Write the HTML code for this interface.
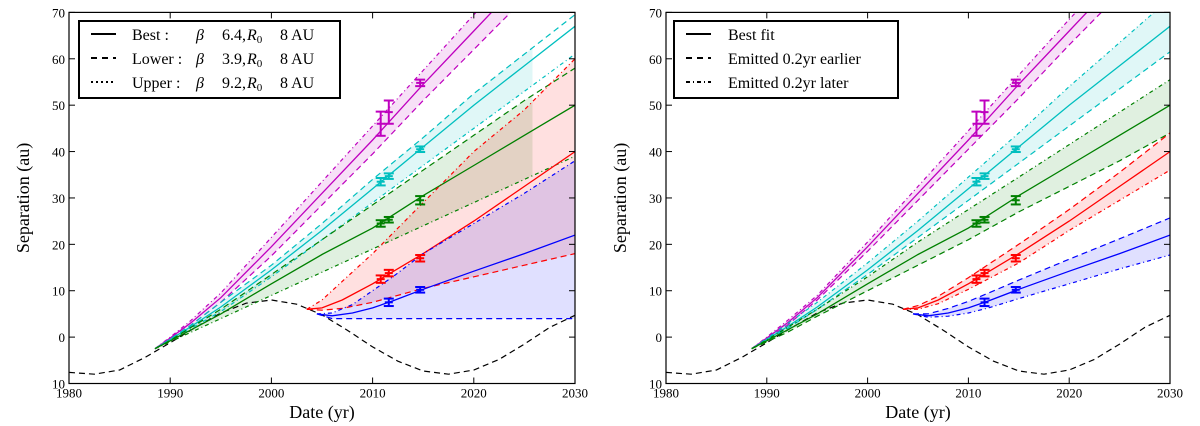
<!DOCTYPE html>
<html><head><meta charset="utf-8"><style>
html,body{margin:0;padding:0;background:#fff;}
svg{display:block;font-family:"Liberation Serif",serif;}
</style></head><body>
<svg id="chart" width="1200" height="426" viewBox="0 0 1200 426" xmlns="http://www.w3.org/2000/svg"></svg>
<script>
// ---------- data ----------
const tLate = [1988.5,1990,1992,1995,2000,2005,2010,2015,2020,2025,2030];
const tRed = [2003.5,2005,2007,2010,2015,2020,2025,2030];
const tBlue = [2004.5,2006,2008,2010,2012,2015,2020,2025,2030];
const sinYears = [1980,1982.5,1985,1987.5,1990,1992.5,1995,1997.5,2000,2002.5,2005,2007.5,2010,2012.5,2015,2017.5,2020,2022.5,2025,2027.5,2030];
const sinVals = [-7.6,-8.0,-7.1,-4.4,-1.2,2.1,5.2,7.3,8.0,7.1,4.8,1.5,-2.1,-5.2,-7.3,-8.0,-7.1,-4.8,-1.5,2.1,4.7];

const magBest = [-2.5,-0.2,3,8.5,19.5,31,42.5,54.5,66,77.5,89];
const cyaBest = [-2.5,-0.5,2.2,6.5,14.5,23,32,41,50,58.5,67];
const grnBest = [-2.5,-0.8,1.5,5,11.5,17.8,23.5,30.5,37,43.5,50];
const redBest = [6,6.3,8,11.5,18,25,32.5,40];
const bluBest = [5,4.6,5.2,6.3,7.8,10.3,14.2,18,22];

// left panel: lower (dashed) / upper (dash-dot)
const L_magLow = [-2.5,-0.4,2.5,7.5,17.5,28.5,39.5,51,62,73,84];
const L_magUp  = [-2.5,0,3.5,9.5,21.5,33.5,45.5,57.5,69.5,81,93];
const L_cyaLow = [-2.5,-0.4,2.5,7.5,15.5,24.5,34,43,52.5,61,69.5];
const L_cyaUp  = [-2.5,-0.6,1.8,5.5,13,21,29,37,45,53,61];
const L_grnLow = [-2.5,-0.7,2,6,13.5,21,28.5,36,43.5,51,58];
const L_grnUp  = [-2.5,-1,1,4,9,14,19,24,29,34,39];
const L_redLow = [6,5.8,6.2,7.5,10.5,13,15.5,18];
const L_redUp  = [6,8,12,18,29,40,49,60];
const L_bluLow = [5,4,4,4,4,4,4,4,4];
const L_bluUp  = [5,5.2,7,10,13,18,24.5,31,38];

// right panel: earlier (dashed) / later (dash-dot)
const R_magLow = [-2.5,-0.4,2.5,8,18.5,29.5,40.5,51.5,63,74,85];
const R_magUp  = [-2.5,0,3.5,9,20.5,32.5,44.5,56.5,68.5,80,92];
const R_cyaLow = [-2.5,-0.7,1.8,6,13.5,21.5,29.5,37.5,45.5,53.5,61.5];
const R_cyaUp  = [-2.5,-0.3,2.8,7.5,16,25,34.5,44,54,63.5,73];
const R_grnLow = [-2.5,-1,1,4.5,10,15.5,21,27,32.5,38,44];
const R_grnUp  = [-2.5,-0.6,2,6,13,20.5,27.5,34.5,41.5,48.5,55.5];
const R_redLow = [6,6.8,8.8,12.8,20,27.5,35.5,44];
const R_redUp  = [6,6,7.2,10.3,16,23,29.5,36];
const R_bluLow = [5,5,6.2,7.7,9.5,12.3,16.8,21.2,25.7];
const R_bluUp  = [5,4.3,4.5,5.2,6.3,8.3,11.5,14.7,17.7];

// error bars: date, value, error
const obsMag = [[2010.8,46,2.6],[2011.6,48.5,2.5],[2014.7,54.8,0.7]];
const obsCya = [[2010.8,33.5,0.8],[2011.6,34.7,0.6],[2014.7,40.5,0.6]];
const obsGrn = [[2010.8,24.5,0.7],[2011.6,25.3,0.6],[2014.7,29.5,0.9]];
const obsRed = [[2010.8,12.5,0.8],[2011.6,13.8,0.7],[2014.7,17,0.7]];
const obsBlu = [[2011.6,7.5,0.8],[2014.7,10.2,0.6]];

const xTicks = [1980,1990,2000,2010,2020,2030];
const yTicks = [70,60,50,40,30,20,10,0,-10];
const yTickLabels = ["70","60","50","40","30","20","10","0","10"];

// ---------- drawing ----------
const NS = "http://www.w3.org/2000/svg";
const svg = document.getElementById('chart');
function el(tag, attrs, parent){const e=document.createElementNS(NS,tag);for(const k in attrs)e.setAttribute(k,attrs[k]);(parent||svg).appendChild(e);return e;}

const COL = {mag:'#bf00bf',cya:'#00bfbf',grn:'#008000',red:'#ff0000',blu:'#0000ff'};
const DASH = '6,4', DOT_L = '4,3,1,3', DOT_R = '4,3,1,3';

function panel(id, x0, x1, lows, ups, fillEnd, legend){
  const y0 = 12.4, y1 = 383.5;
  const sx = t => x0 + (t-1980)/50*(x1-x0);
  const sy = v => y0 + (70-v)/80*(y1-y0);
  const g = el('g',{});
  
  
  const defs = el('defs',{},g);
  const cp = el('clipPath',{id:id+'-clip'},defs);
  el('rect',{x:x0,y:y0,width:x1-x0,height:y1-y0},cp);
  const cpf = el('clipPath',{id:id+'-clipf'},defs);
  el('rect',{x:x0,y:y0,width:sx(fillEnd)-x0,height:y1-y0},cpf);
  const plot = el('g',{'clip-path':'url(#'+id+'-clip)'},g);
  const pts = (ts,vs)=>ts.map((t,i)=>sx(t).toFixed(1)+','+sy(vs[i]).toFixed(1));
  function line(ts,vs,color,dash,w,name){
    const p = el('polyline',{points:pts(ts,vs).join(' '),fill:'none',stroke:color,'stroke-width':w||1.2,'stroke-dasharray':dash||'none'},plot);
    
    
  }
  function band(ts,a,b,color,name,clipEnd){
    const p = pts(ts,a).concat(pts(ts,b).reverse());
    const poly = el('polygon',{points:p.join(' '),fill:color,'fill-opacity':0.12,stroke:'none'},plot);
    if(clipEnd) poly.setAttribute('clip-path','url(#'+id+'-clipf)');
    
    
  }
  const series = [
    ['mag',tLate,magBest,lows.mag,ups.mag,false],
    ['cya',tLate,cyaBest,lows.cya,ups.cya,true],
    ['grn',tLate,grnBest,lows.grn,ups.grn,true],
    ['red',tRed,redBest,lows.red,ups.red,false],
    ['blu',tBlue,bluBest,lows.blu,ups.blu,false]];
  series.forEach(s=>band(s[1],s[3],s[4],COL[s[0]],s[0]+'-band',s[5]));
  line(sinYears,sinVals,'#000',DASH,1.2,'orbit-curve');
  series.forEach(s=>{
    line(s[1],s[3],COL[s[0]],DASH,1.2,s[0]+'-lower-line');
    line(s[1],s[4],COL[s[0]],id==='left'?DOT_L:DOT_R,1.2,s[0]+'-upper-line');
    line(s[1],s[2],COL[s[0]],null,1.3,s[0]+'-best-line');
  });
  const obs = {mag:obsMag,cya:obsCya,grn:obsGrn,red:obsRed,blu:obsBlu};
  for(const k in obs){
    obs[k].forEach(o=>{
      const cx=sx(o[0]), ya=sy(o[1]+o[2]), yb=sy(o[1]-o[2]);
      const eg = el('g',{stroke:COL[k],'stroke-width':2,fill:'none'},plot);
      
      
      el('line',{x1:cx,y1:ya,x2:cx,y2:yb},eg);
      el('line',{x1:cx-5,y1:ya,x2:cx+5,y2:ya},eg);
      el('line',{x1:cx-5,y1:yb,x2:cx+5,y2:yb},eg);
      el('line',{x1:cx-4,y1:sy(o[1]),x2:cx+4,y2:sy(o[1])},eg);
    });
  }
  const fr = el('rect',{x:x0,y:y0,width:x1-x0,height:y1-y0,fill:'none',stroke:'#000','stroke-width':1.2},g);
  
  
  xTicks.forEach(t=>{
    const x=sx(t);
    el('line',{x1:x,y1:y1,x2:x,y2:y1-6,stroke:'#000'},g);
    el('line',{x1:x,y1:y0,x2:x,y2:y0+6,stroke:'#000'},g);
    const tx = el('text',{x:x,y:y1+14,'font-size':13,'text-anchor':'middle'},g);
    tx.textContent = t;
    
    
  });
  yTicks.forEach((v,i)=>{
    const y=sy(v);
    el('line',{x1:x0,y1:y,x2:x0+6,y2:y,stroke:'#000'},g);
    el('line',{x1:x1,y1:y,x2:x1-6,y2:y,stroke:'#000'},g);
    const tx = el('text',{x:x0-4,y:y+5,'font-size':13,'text-anchor':'end'},g);
    tx.textContent = yTickLabels[i];
    
    
  });
  const xl = el('text',{x:(x0+x1)/2,y:418,'font-size':18,'text-anchor':'middle'},g);
  xl.textContent = 'Date (yr)';
  
  
  const yl = el('text',{x:0,y:0,'font-size':18,'text-anchor':'middle',transform:'translate('+(x0-40)+','+((y0+y1)/2)+') rotate(-90)'},g);
  yl.textContent = 'Separation (au)';
  
  
  const lg = el('g',{},g);
  
  
  el('rect',{x:legend.x,y:21,width:legend.w,height:77,fill:'#fff',stroke:'#000','stroke-width':2},lg);
  legend.rows.forEach((r,i)=>{
    const y = 34+i*24;
    el('line',{x1:legend.x+12,y1:y,x2:legend.x+37,y2:y,stroke:'#000','stroke-width':2,'stroke-dasharray':r[0]},lg);
    const tx = el('text',{x:legend.x+54,y:y+6,'font-size':16},lg);
    tx.innerHTML = r[1];
    
    
  });
}

function leftRow(label, val){
  return '<tspan x="132">'+label+'</tspan><tspan x="196" font-style="italic">β</tspan><tspan x="222">'+val+',</tspan><tspan x="247" font-style="italic">R</tspan><tspan font-size="11" dy="3">0</tspan><tspan x="280" dy="-3">8 AU</tspan>';
}

panel('left', 69, 575,
  {mag:L_magLow,cya:L_cyaLow,grn:L_grnLow,red:L_redLow,blu:L_bluLow},
  {mag:L_magUp,cya:L_cyaUp,grn:L_grnUp,red:L_redUp,blu:L_bluUp}, 2025.8,
  {x:79,w:261,rows:[
    ['none',leftRow('Best :','6.4')],
    ['6,5',leftRow('Lower :','3.9')],
    ['2,3',leftRow('Upper :','9.2')]]});
panel('right', 666, 1170,
  {mag:R_magLow,cya:R_cyaLow,grn:R_grnLow,red:R_redLow,blu:R_bluLow},
  {mag:R_magUp,cya:R_cyaUp,grn:R_grnUp,red:R_redUp,blu:R_bluUp}, 2031,
  {x:674,w:224,rows:[
    ['none','Best fit'],
    ['6,5','Emitted 0.2yr earlier'],
    ['4,3,1,3','Emitted 0.2yr later']]});
</script>
</body></html>
